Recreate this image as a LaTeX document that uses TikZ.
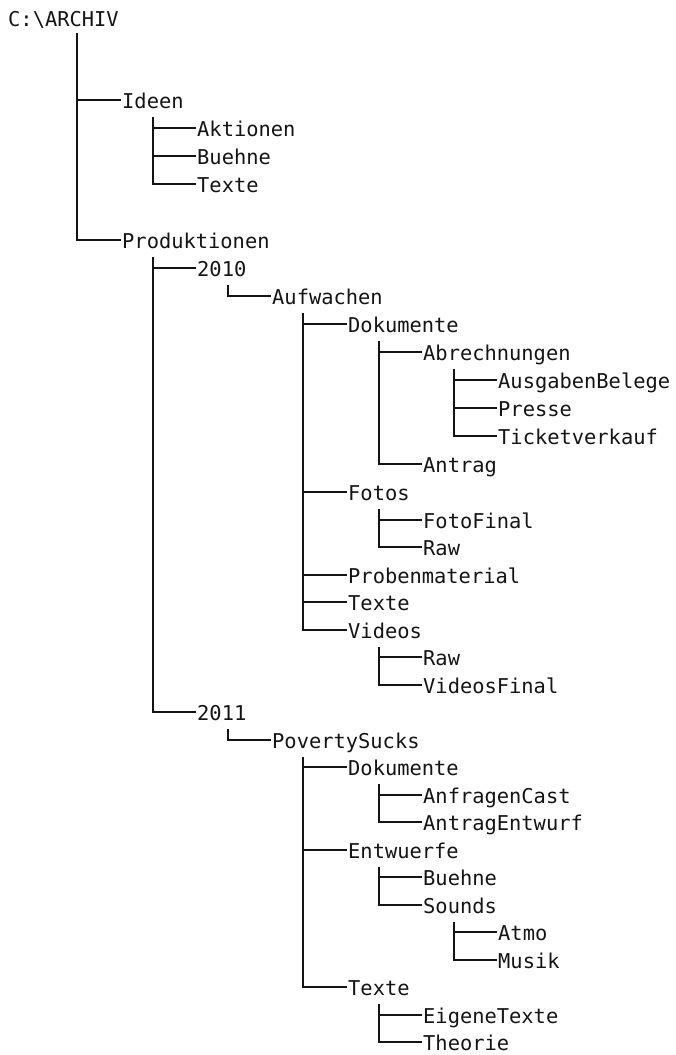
\documentclass[tikz,border=0pt]{standalone}
\usepackage{fontspec}
\setmonofont{DejaVu Sans Mono}
\begin{document}
\begin{tikzpicture}[x=1pt,y=-1pt,
  lbl/.style={anchor=west,inner xsep=1pt,inner ysep=0pt,text height=16pt,text depth=0pt,
    font=\ttfamily\fontsize{20.4pt}{24pt}\selectfont,text=black!92},
  edge/.style={draw=black!92,line width=2pt}]
\useasboundingbox[fill=white] (0,0) rectangle (675,1055);
\newcommand\tn[4]{\node[lbl] (#1) at ({round(122+75.2*(#3-1)-1)},{round(#2<=17 ? 16+28*#2 : 492+27.5*(#2-17))}) {#4};}
\node[lbl] (root) at (7,18) {C:\textbackslash ARCHIV};
\tn{ideen}{3}{1}{Ideen}
\tn{akt}{4}{2}{Aktionen}
\tn{ibue}{5}{2}{Buehne}
\tn{itex}{6}{2}{Texte}
\tn{prod}{8}{1}{Produktionen}
\tn{y10}{9}{2}{2010}
\tn{auf}{10}{3}{Aufwachen}
\tn{adok}{11}{4}{Dokumente}
\tn{abr}{12}{5}{Abrechnungen}
\tn{ausg}{13}{6}{AusgabenBelege}
\tn{pres}{14}{6}{Presse}
\tn{tick}{15}{6}{Ticketverkauf}
\tn{antr}{16}{5}{Antrag}
\tn{fot}{17}{4}{Fotos}
\tn{fotf}{18}{5}{FotoFinal}
\tn{fraw}{19}{5}{Raw}
\tn{prob}{20}{4}{Probenmaterial}
\tn{atex}{21}{4}{Texte}
\tn{vid}{22}{4}{Videos}
\tn{vraw}{23}{5}{Raw}
\tn{vidf}{24}{5}{VideosFinal}
\tn{y11}{25}{2}{2011}
\tn{pov}{26}{3}{PovertySucks}
\tn{pdok}{27}{4}{Dokumente}
\tn{anf}{28}{5}{AnfragenCast}
\tn{antw}{29}{5}{AntragEntwurf}
\tn{entw}{30}{4}{Entwuerfe}
\tn{ebue}{31}{5}{Buehne}
\tn{snd}{32}{5}{Sounds}
\tn{atmo}{33}{6}{Atmo}
\tn{mus}{34}{6}{Musik}
\tn{ptex}{35}{4}{Texte}
\tn{eig}{36}{5}{EigeneTexte}
\tn{theo}{37}{5}{Theorie}
\newcommand\br[2]{\foreach \c in {#2}{\draw[edge] ([xshift=32pt,yshift=-9pt]#1.south west) |- (\c.west);}}
\foreach \c in {ideen,prod}{\draw[edge] ([xshift=70pt,yshift=-7pt]root.south west) |- (\c.west);}
\br{ideen}{akt,ibue,itex}
\br{prod}{y10,y11}
\br{y10}{auf}
\br{auf}{adok,fot,prob,atex,vid}
\br{adok}{abr,antr}
\br{abr}{ausg,pres,tick}
\br{fot}{fotf,fraw}
\br{vid}{vraw,vidf}
\br{y11}{pov}
\br{pov}{pdok,entw,ptex}
\br{pdok}{anf,antw}
\br{entw}{ebue,snd}
\br{snd}{atmo,mus}
\br{ptex}{eig,theo}
\end{tikzpicture}
\end{document}
